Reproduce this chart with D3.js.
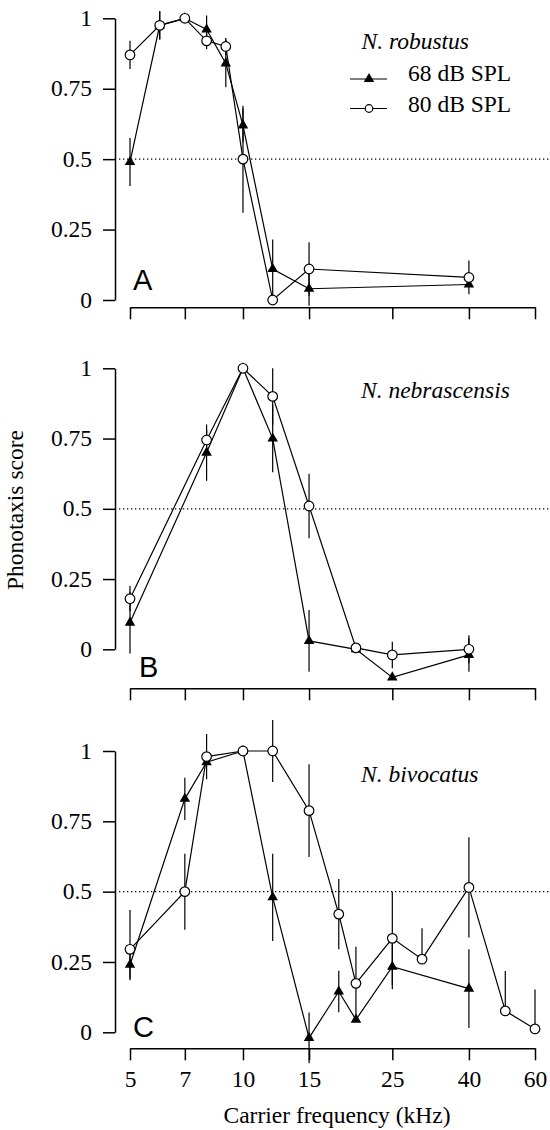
<!DOCTYPE html>
<html><head><meta charset="utf-8">
<script src="https://cdn.jsdelivr.net/npm/d3@7/dist/d3.min.js"></script>
<style>body{margin:0;background:#fff}</style>
</head><body><svg id="c" width="550" height="1130"></svg>
<script>
// ---- data ----
const freqTicks = [5, 7, 10, 15, 25, 40, 60];
const scoreTicks = [0, 0.25, 0.5, 0.75, 1];
const seriesNames = ["68 dB SPL", "80 dB SPL"];
const species = ["N. robustus", "N. nebrascensis", "N. bivocatus"];
const panelLetters = ["A", "B", "C"];

// Panel A – N. robustus
const freqA = [5, 6, 7, 8, 9, 10, 12, 15, 40];
const low68A = [0.49, 0.975, 1.0, 0.96, 0.84, 0.62, 0.11, 0.04, 0.055];
const err68A = [0.085, 0.05, 0, 0.05, 0.085, 0.06, 0.105, 0.06, 0];
const high80A = [0.87, 0.975, 1.0, 0.92, 0.90, 0.50, 0.0, 0.11, 0.08];
const err80A = [0.05, 0.05, 0, 0.03, 0.03, 0.19, 0, 0.095, 0.06];

// Panel B – N. nebrascensis
const freqB = [5, 8, 10, 12, 15, 20, 25, 40];
const low68B = [0.095, 0.70, 1.0, 0.75, 0.03, 0.0, -0.10, -0.02];
const err68B = [0.11, 0.10, 0, 0.12, 0.11, 0, 0, 0.06];
const high80B = [0.18, 0.745, 1.0, 0.90, 0.51, 0.005, -0.02, 0.0];
const err80B = [0.045, 0.035, 0, 0.10, 0.115, 0, 0.047, 0.05];

// Panel C – N. bivocatus
const freq68C = [5, 7, 8, 10, 12, 15, 18, 20, 25, 40];
const low68C = [0.24, 0.83, 0.96, 1.0, 0.48, -0.02, 0.145, 0.045, 0.233, 0.155];
const err68C = [0.05, 0.075, 0, 0, 0.155, 0.09, 0.074, 0, 0.08, 0.14];
const freq80C = [5, 7, 8, 10, 12, 15, 18, 20, 25, 30, 40, 50, 60];
const high80C = [0.295, 0.50, 0.98, 1.0, 1.0, 0.788, 0.42, 0.174, 0.334, 0.26, 0.515, 0.076, 0.012];
const err80C = [0.14, 0.135, 0.08, 0, 0.11, 0.165, 0.125, 0.13, 0.166, 0.11, 0.178, 0.142, 0.14];
const err80CLow = [0.11, 0.135, 0.08, 0, 0.11, 0.165, 0.125, 0.13, 0.166, 0, 0.178, 0, 0];

// ---- build ----
const panels = [
  {f68: freqA, v68: low68A, e68: err68A, f80: freqA, v80: high80A, e80: err80A, e80lo: err80A},
  {f68: freqB, v68: low68B, e68: err68B, f80: freqB, v80: high80B, e80: err80B, e80lo: err80B},
  {f68: freq68C, v68: low68C, e68: err68C, f80: freq80C, v80: high80C, e80: err80C, e80lo: err80CLow}
];
const layout = [
  {top: 18.3, zero: 300, axisY: 307.3, letter: [133, 290], sp: [361.5, 49.3]},
  {top: 368.3, zero: 649.3, axisY: 688.3, letter: [139, 677], sp: [361, 398.3]},
  {top: 751, zero: 1032.3, axisY: 1048.3, letter: [133, 1037], sp: [361, 781.7]}
];

const svg = d3.select("#c");
svg.append("rect").attr("width", 550).attr("height", 1130).attr("fill", "#fff");
const serif = "'Liberation Serif','Times New Roman',serif";
const fs = 23.5;

const x = d3.scaleLog().domain([5, 60]).range([130, 535]);

panels.forEach((p, i) => {
  const L = layout[i];
  const y = d3.scaleLinear().domain([0, 1]).range([L.zero, L.top]);
  const g = svg.append("g");

  // y axis
  const ya = g.append("g").attr("transform", "translate(115,0)")
    .call(d3.axisLeft(y).tickValues(scoreTicks).tickFormat(d => String(d))
      .tickSize(12).tickPadding(11).tickSizeOuter(0));
  ya.select(".domain").attr("stroke", "#000").attr("stroke-width", 1.5);
  ya.selectAll(".tick line").attr("stroke", "#000").attr("stroke-width", 1.5);
  ya.selectAll(".tick text").attr("font-family", serif).attr("font-size", fs).attr("fill", "#000").attr("dy", "0.3em");

  // x axis
  const xa = g.append("g").attr("transform", `translate(0,${L.axisY})`)
    .call(d3.axisBottom(x).tickValues(freqTicks).tickFormat(i === 2 ? d3.format("d") : () => "")
      .tickSize(12).tickPadding(10).tickSizeOuter(0));
  xa.select(".domain").attr("stroke", "#000").attr("stroke-width", 1.5);
  xa.selectAll(".tick line").attr("stroke", "#000").attr("stroke-width", 1.5);
  xa.selectAll(".tick text").attr("font-family", serif).attr("font-size", fs).attr("fill", "#000");

  // dotted 0.5 reference
  g.append("line").attr("x1", 119).attr("x2", 550).attr("y1", y(0.5)).attr("y2", y(0.5))
    .attr("stroke", "#000").attr("stroke-width", 1.2).attr("stroke-dasharray", "1.3,2.7");

  const d68 = p.f68.map((f, k) => ({f, v: p.v68[k], up: p.e68[k], lo: p.e68[k]}));
  const d80 = p.f80.map((f, k) => ({f, v: p.v80[k], up: p.e80[k], lo: p.e80lo[k]}));

  // error bars
  [d68, d80].forEach(d => {
    g.selectAll(null).data(d.filter(e => e.up > 0 || e.lo > 0)).enter().append("line")
      .attr("x1", e => x(e.f)).attr("x2", e => x(e.f))
      .attr("y1", e => y(e.v + e.up)).attr("y2", e => y(e.v - e.lo))
      .attr("stroke", "#000").attr("stroke-width", 1.2);
  });

  const line = d3.line().x(e => x(e.f)).y(e => y(e.v));
  g.append("path").datum(d68).attr("d", line).attr("fill", "none").attr("stroke", "#000").attr("stroke-width", 1.2);
  g.append("path").datum(d80).attr("d", line).attr("fill", "none").attr("stroke", "#000").attr("stroke-width", 1.2);

  const tri = d3.symbol().type(d3.symbolTriangle).size(48);
  g.selectAll(null).data(d68).enter().append("path")
    .attr("d", tri).attr("transform", e => `translate(${x(e.f)},${y(e.v)})`).attr("fill", "#000");
  g.selectAll(null).data(d80).enter().append("circle")
    .attr("cx", e => x(e.f)).attr("cy", e => y(e.v)).attr("r", 4.8)
    .attr("fill", "#fff").attr("stroke", "#000").attr("stroke-width", 1.2);

  // panel letter
  g.append("text").attr("x", L.letter[0]).attr("y", L.letter[1]).text(panelLetters[i])
    .attr("font-family", "'Liberation Sans',Arial,sans-serif").attr("font-size", 29).attr("fill", "#000");
  // species
  g.append("text").attr("x", L.sp[0]).attr("y", L.sp[1]).text(species[i])
    .attr("font-family", serif).attr("font-style", "italic").attr("font-size", fs).attr("fill", "#000");
});

// legend
const leg = svg.append("g");
const legY = [79, 108.5];
const legTextY = [81, 111.5];
legY.forEach((ly, k) => {
  leg.append("line").attr("x1", 350).attr("x2", 387).attr("y1", ly).attr("y2", ly)
    .attr("stroke", "#000").attr("stroke-width", 1.2);
  if (k === 0) {
    leg.append("path").attr("d", d3.symbol().type(d3.symbolTriangle).size(48)())
      .attr("transform", `translate(369,${ly})`).attr("fill", "#000");
  } else {
    leg.append("circle").attr("cx", 369).attr("cy", ly).attr("r", 3.8)
      .attr("fill", "#fff").attr("stroke", "#000").attr("stroke-width", 1.2);
  }
  leg.append("text").attr("x", 408).attr("y", legTextY[k]).text(seriesNames[k])
    .attr("font-family", serif).attr("font-size", fs).attr("fill", "#000");
});

// axis titles
svg.append("text").attr("x", 337).attr("y", 1123).attr("text-anchor", "middle")
  .text("Carrier frequency (kHz)").attr("font-family", serif).attr("font-size", fs).attr("fill", "#000");
svg.append("text").attr("transform", "translate(23,510) rotate(-90)").attr("text-anchor", "middle")
  .text("Phonotaxis score").attr("font-family", serif).attr("font-size", fs).attr("fill", "#000");
</script></body></html>
